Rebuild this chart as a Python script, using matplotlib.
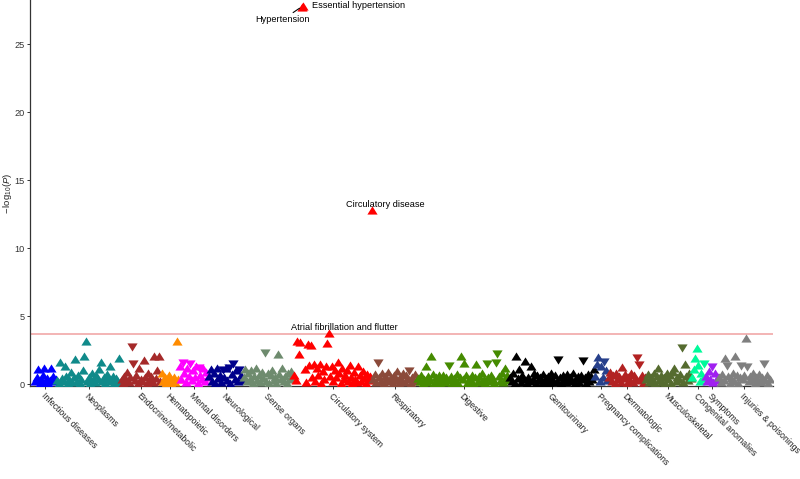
import matplotlib
matplotlib.use("Agg")
import matplotlib.pyplot as plt
from matplotlib.path import Path
import numpy as np

plt.rcParams['font.family'] = ['Liberation Sans', 'DejaVu Sans']
plt.rcParams['mathtext.fontset'] = 'custom'
plt.rcParams['mathtext.rm'] = 'Liberation Sans'
plt.rcParams['mathtext.it'] = 'Liberation Sans:italic'

# ---------------- data ----------------
groups = ["Infectious diseases", "Neoplasms", "Endocrine/metabolic", "Hematopoietic",
          "Mental disorders", "Neurological", "Sense organs", "Circulatory system",
          "Respiratory", "Digestive", "Genitourinary", "Pregnancy complications",
          "Dermatologic", "Musculoskeletal", "Congenital anomalies", "Symptoms",
          "Injuries & poisonings"]

colors = ["#0000FF", "#108A8A", "#A52A2A", "#FF8C00", "#FF00FF", "#00008B", "#6E8B6E",
          "#FF0000", "#8B4A3A", "#458B00", "#000000", "#27408B", "#B22222", "#556B2F",
          "#00FA9A", "#A020F0", "#7F7F7F"]

# signed values: magnitude = -log10(P), sign = direction of effect (+ up, - down)
infectious = [0.2, 0.5, 1.1, 0.1, 0.35, 0.7, 1.2, 0.15, 0.45, 0.05, 0.3, 1.15, 0.6, 0.2, 0.4]
neoplasms = [0.3, 0.1, 1.6, 0.45, 0.2, 1.3, 0.6, 0.05, 0.35, 0.9,
             0.15, 0.5, 1.85, 0.25, 0.7, 0.1, 0.4, 1.0, 2.05, 3.2,
             0.2, 0.55, 0.05, 0.8, 0.3, 0.15, 0.65, 0.4, 1.1, 1.6,
             0.25, 0.5, 0.1, 0.75, 0.35, 1.3, 0.2, 0.6, 0.05, 0.45,
             0.3, 1.9, 0.15]
endocrine = [0.35, 0.1, 0.6, 0.25, 0.9, 0.15, 0.5, -2.7, -1.5, 0.3,
             0.7, 0.05, 1.2, 0.4, 0.2, 1.75, 0.55, 0.1, 0.85, 0.3,
             0.6, 0.15, 2.05, 0.45, 1.0, 2.05, 0.25]
hematopoietic = [0.85, 0.2, 0.5, 0.1, 0.35, 0.65, 0.05, 0.3, 0.55, 0.15, 3.15, 0.4]
mental = [1.3, 0.4, -1.55, 0.8, 0.15, 1.2, 0.6, -1.45, 0.3, 1.05,
          0.5, 1.3, 0.1, -1.2, 0.7, 0.35, 1.15, 0.2, 0.9, 0.5]
neurological = [0.6, 1.1, 0.25, 0.8, 0.1, 1.2, 0.45, 0.7, 0.15, -1.0,
                0.55, 1.15, 0.3, -1.2, 0.05, 0.75, -1.5, 0.4, 1.0, 0.2,
                -1.0, 0.65, 0.3]
sense = [0.5, 1.1, 0.2, 0.8, 0.35, 1.0, 0.1, 0.6, 1.15, 0.3,
         0.7, 0.15, 0.9, 0.45, -2.3, 0.25, 0.85, 0.1, 0.65, 1.05,
         0.3, 0.55, 0.05, 2.2, 0.75, 0.4, 1.2, 0.2, 0.6, 0.05,
         0.8, 0.35, 0.95, 0.5]
circulatory = [0.7, 0.3, 3.2, 2.2, 3.1, 27.75, 27.8, 1.1, 0.15, 2.95,
               1.4, 2.9, 0.5, 1.5, 0.25, 1.2, 0.7, 1.45, 0.05, 0.95,
               0.4, 1.3, 3.0, 3.75, 0.6, 1.35, 0.2, 1.05, 0.5, 1.6,
               0.8, 0.1, 1.2, 0.35, 0.7, 1.0, 0.2, 1.4, 0.55, 0.05,
               0.9, 0.4, 0.15, 1.3, 0.65, 0.25, 0.95, 0.45, 0.1, 0.75,
               0.3, 0.6, 12.8]
respiratory = [0.4, 0.75, 0.15, -1.55, 0.5, 0.25, 0.85, 0.05, 0.6, 0.35,
               0.9, 0.2, 0.55, 0.05, 0.7, 0.3, 0.95, 0.1, 0.5, 0.25,
               0.8, 0.15, 0.65, 0.4, -0.95, 0.05, 0.55, 0.2, 0.75, 0.35]
digestive = [0.45, 0.2, 0.7, 0.05, 0.4, 1.3, 0.15, 0.6, 0.3, 2.1,
             0.75, 0.1, 0.5, 0.25, 0.65, 0.05, 0.4, 0.7, 0.15, 0.55,
             0.3, -1.3, 0.6, 0.05, 0.45, 0.2, 0.75, 0.1, 0.5, 2.05,
             0.35, 1.55, 0.65, 0.1, 0.4, 0.2, 0.7, 0.05, 0.5, 1.5,
             0.25, 0.6, 0.15, 0.8, 0.35, 0.05, -1.45, 0.55, 0.2, 0.7,
             0.4, 0.1, -1.55, -2.2, 0.6, 0.25, 0.8, 0.15, 1.2, 0.45,
             0.7, 0.3]
genitourinary = [0.55, 0.2, 0.8, 0.1, 2.05, 0.45, 1.1, 0.15, 0.7, 0.35,
                 1.7, 0.05, 0.55, 0.25, 1.3, 0.4, 0.8, 0.1, 0.65, 0.3,
                 0.5, 0.05, 0.75, 0.2, 0.45, 0.6, 0.1, 0.8, 0.35, 0.15,
                 0.7, 0.25, -1.75, 0.5, 0.05, 0.65, 0.4, 0.15, 0.75, 0.3,
                 0.55, 0.2, 0.8, 0.05, 0.45, 0.6, 0.15, 0.7, 0.35, -1.7,
                 0.5, 0.1, 0.75, 0.25, 0.6, 0.4, 1.1]
pregnancy = [0.6, 1.5, 2.0, 0.2, 1.3, 0.5, -1.6, 1.0, 0.3]
dermatologic = [0.5, 0.9, 0.2, 0.7, 0.1, 0.8, 0.35, 0.6, 0.15, 1.25,
                0.45, 0.75, 0.05, 0.55, 0.25, 0.85, 0.15, 0.65, 0.4, -1.9,
                -1.4, 0.3, 0.7, 0.1, 0.5]
musculoskeletal = [0.4, 0.75, 0.15, 0.55, 0.25, 0.85, 0.05, 0.6, 1.2, 0.3,
                   0.7, 0.15, 0.5, 0.05, 0.8, 0.35, 0.65, 0.1, 0.9, 1.2,
                   0.25, 0.55, 0.4, 0.75, -2.65, 0.15, 1.5, 0.6, 0.3, 0.8,
                   0.45]
congenital = [0.5, 1.1, 1.9, 2.65, 1.4, 0.25, 0.85, 0.45, -1.5]
symptoms = [0.6, 0.2, 0.95, 0.4, -1.25, 0.15, 0.8, 0.3, 0.55]
injuries = [0.5, 0.15, 0.75, 0.3, 1.9, -1.3, 0.6, 0.05, 0.45, 0.85,
            0.2, 2.1, 0.65, 0.1, 0.5, -1.3, 0.35, 0.7, 3.4, -1.25,
            0.2, 0.6, 0.4, 0.8, 0.05, 0.55, 0.25, 0.75, 0.15, 0.5,
            -1.5, 0.3, 0.65, 0.1, 0.4]

group_values = [infectious, neoplasms, endocrine, hematopoietic, mental, neurological,
                sense, circulatory, respiratory, digestive, genitourinary, pregnancy,
                dermatologic, musculoskeletal, congenital, symptoms, injuries]

threshold = 3.68  # Bonferroni line

# labelled phenotypes: (group, position within group, label)
labelled = [("Circulatory system", 5, "Hypertension"),
            ("Circulatory system", 6, "Essential hypertension"),
            ("Circulatory system", 52, "Circulatory disease"),
            ("Circulatory system", 23, "Atrial fibrillation and flutter")]

# ---------------- plot ----------------
fig = plt.figure(figsize=(8.0, 4.79), dpi=100)
ax = fig.add_axes([0.0375, 0.194, 0.929, 0.806])

up = Path([(-1, -0.8), (1, -0.8), (0, 0.8), (-1, -0.8)],
          [Path.MOVETO, Path.LINETO, Path.LINETO, Path.CLOSEPOLY])
down = Path([(-1, 0.8), (1, 0.8), (0, -0.8), (-1, 0.8)],
            [Path.MOVETO, Path.LINETO, Path.LINETO, Path.CLOSEPOLY])

starts = {}
tick_pos = []
start = 0
for name, vals, col in zip(groups, group_values, colors):
    v = np.array(vals, dtype=float)
    x = start + np.arange(len(v))
    starts[name] = start
    pos = v >= 0
    ax.scatter(x[pos], np.abs(v[pos]), marker=up, s=54, color=col, linewidths=0, zorder=3)
    ax.scatter(x[~pos], np.abs(v[~pos]), marker=down, s=54, color=col, linewidths=0, zorder=3)
    tick_pos.append(start + (len(v) - 1) / 2)
    start += len(v)
n_total = start

ax.axhline(threshold, color="#F0A0A0", lw=1.1, zorder=2)

gv = dict(zip(groups, group_values))
styles = {
    "Hypertension": dict(xytext=(-14, -9.5), ha="center", va="center", line=True),
    "Essential hypertension": dict(xytext=(6.5, 0), ha="left", va="center", line=False),
    "Circulatory disease": dict(xytext=(10, 4.3), ha="center", va="center", line=False),
    "Atrial fibrillation and flutter": dict(xytext=(11.5, 3.8), ha="center", va="center", line=False),
}
for g, p, lab in labelled:
    xi = starts[g] + p
    yi = abs(gv[g][p])
    st = styles[lab]
    ap = dict(arrowstyle="-", color="black", lw=0.8, shrinkA=0, shrinkB=2) if st["line"] else None
    ax.annotate(lab, xy=(xi, yi), xytext=st["xytext"], textcoords="offset points",
                ha=st["ha"], va=st["va"], fontsize=6.6, color="black",
                arrowprops=ap, zorder=5)

ax.set_xlim(-3.4, n_total + 1.3)
ax.set_ylim(-0.147, 28.24)
ax.set_yticks([0, 5, 10, 15, 20, 25])
ax.set_xticks(tick_pos)
ax.set_xticklabels(groups, rotation=-45, ha="left", va="top", rotation_mode="anchor",
                   fontsize=6.3, color="#222222")
ax.tick_params(axis="y", labelsize=6.6, labelcolor="#333333")
ax.tick_params(axis="both", direction="out", length=2.2, width=0.7, color="#333333", pad=1.5)

for s in ["top", "right"]:
    ax.spines[s].set_visible(False)
for s in ["left", "bottom"]:
    ax.spines[s].set_color("#333333")
    ax.spines[s].set_linewidth(0.9)

ax.set_ylabel(r"$-\,\mathrm{log}_{10}(\mathit{P})$", fontsize=6.8, color="#222222")
ax.yaxis.set_label_coords(-0.021, 0.5)

fig.savefig("out.png", dpi=100)
